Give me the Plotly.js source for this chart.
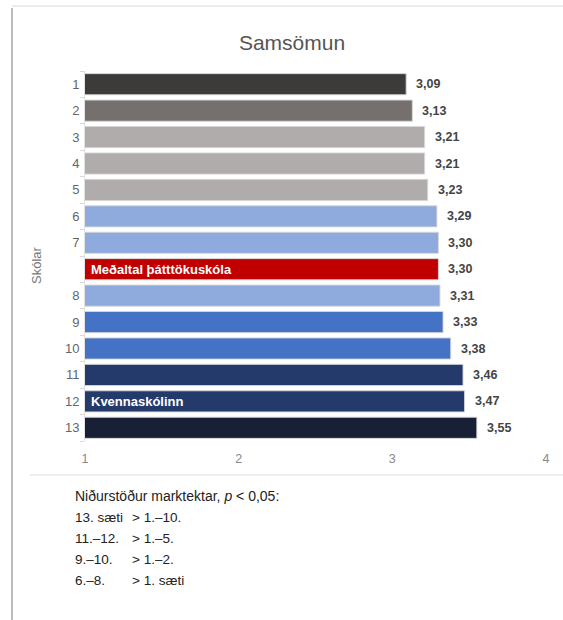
<!DOCTYPE html>
<html>
<head>
<meta charset="utf-8">
<script src="https://cdn.plot.ly/plotly-3.0.1.min.js"></script>
<style>html,body{margin:0;padding:0;background:#fff;}#chart{width:563px;height:620px;}</style>
</head>
<body>
<div id="chart"></div>
<script>
// ---- data ----
const categories = ["Skóli 1","Skóli 2","Skóli 3","Skóli 4","Skóli 5","Skóli 6","Skóli 7","Meðaltal",
                    "Skóli 8","Skóli 9","Skóli 10","Skóli 11","Skóli 12","Skóli 13"];
const tickLabels = ["1","2","3","4","5","6","7","","8","9","10","11","12","13"];
const values = [3.09,3.13,3.21,3.21,3.23,3.29,3.30,3.30,3.31,3.33,3.38,3.46,3.47,3.55];
const barColors = ["#3d3b3a","#75706e","#b0acab","#b0acab","#b0acab","#8faadc","#8faadc","#c00000",
                   "#8faadc","#4472c4","#4472c4","#243a6a","#243a6a","#172035"];
const inBarLabels = {"Meðaltal":"Meðaltal þátttökuskóla","Skóli 12":"Kvennaskólinn"};
const footLeft = ["13. sæti","11.–12.","9.–10.","6.–8."];
const footRight = ["> 1.–10.","> 1.–5.","> 1.–2.","> 1. sæti"];
const footHead = "Niðurstöður marktektar, <i>p</i> < 0,05:";

const FONT = "Liberation Sans, Arial, sans-serif";
const plotTop = 71, plotBottom = 441, plotLeft = 85, plotRight = 546;
const ph = plotBottom - plotTop, pw = plotRight - plotLeft;
const py = px => (plotBottom - px) / ph;
const pxx = px => (px - plotLeft) / pw;

const trace = {
  type: "bar",
  orientation: "h",
  y: categories,
  x: values,
  base: 0,
  width: 0.8,
  marker: {color: barColors, line: {color: "rgba(215,215,215,0.9)", width: 1}},
  hoverinfo: "skip"
};

const annotations = [];
categories.forEach((c, i) => {
  annotations.push({
    x: values[i], y: c, xref: "x", yref: "y",
    text: "<b>" + values[i].toFixed(2).replace(".", ",") + "</b>",
    showarrow: false, xanchor: "left", yanchor: "middle", xshift: 8,
    font: {family: FONT, size: 12.5, color: "#444"}
  });
  if (inBarLabels[c]) {
    annotations.push({
      x: 1, y: c, xref: "x", yref: "y",
      text: "<b>" + inBarLabels[c] + "</b>",
      showarrow: false, xanchor: "left", yanchor: "middle", xshift: 4,
      font: {family: FONT, size: 13, color: "#ffffff"}
    });
  }
});
annotations.push({
  x: pxx(73), y: py(496), xref: "paper", yref: "paper", text: footHead,
  showarrow: false, xanchor: "left", yanchor: "middle",
  font: {family: FONT, size: 14, color: "#222"}
});
footLeft.forEach((t, i) => {
  const yy = py(517 + 21 * i);
  annotations.push({x: pxx(73), y: yy, xref: "paper", yref: "paper", text: t,
    showarrow: false, xanchor: "left", yanchor: "middle", font: {family: FONT, size: 13.5, color: "#222"}});
  annotations.push({x: pxx(130), y: yy, xref: "paper", yref: "paper", text: footRight[i],
    showarrow: false, xanchor: "left", yanchor: "middle", font: {family: FONT, size: 13.5, color: "#222"}});
});
annotations.push({
  x: pxx(36), y: py(265), xref: "paper", yref: "paper", text: "Skólar", textangle: -90,
  showarrow: false, xanchor: "center", yanchor: "middle",
  font: {family: FONT, size: 13, color: "#777"}
});

const layout = {
  width: 563, height: 620,
  margin: {l: plotLeft, r: 563 - plotRight, t: plotTop, b: 620 - plotBottom},
  paper_bgcolor: "#ffffff", plot_bgcolor: "#ffffff",
  showlegend: false,
  title: {text: "Samsömun", x: 292 / 563, xref: "container", xanchor: "center",
          y: 1 - 43 / 620, yref: "container", yanchor: "middle",
          font: {family: FONT, size: 21, color: "#555"}},
  xaxis: {range: [1, 4], tickvals: [1, 2, 3, 4], ticktext: ["1","2","3","4"],
          showgrid: false, zeroline: false, showline: false, ticks: "",
          tickfont: {family: FONT, size: 12.5, color: "#888"}, ticklabelstandoff: 8, fixedrange: true},
  yaxis: {type: "category", categoryorder: "array", categoryarray: categories,
          autorange: "reversed", tickvals: categories, ticktext: tickLabels,
          showgrid: false, zeroline: false, showline: true, linecolor: "#e2e2e2", linewidth: 1,
          ticks: "outside", tickson: "boundaries", ticklen: 4, tickcolor: "#d8d8d8",
          tickfont: {family: FONT, size: 13, color: "#666"}, ticklabelstandoff: 2, fixedrange: true},
  shapes: [
    {type: "line", xref: "paper", yref: "paper", x0: pxx(12), x1: pxx(12), y0: py(8), y1: py(620),
     line: {color: "#bdbdbd", width: 2}},
    {type: "line", xref: "paper", yref: "paper", x0: pxx(12), x1: pxx(563), y0: py(6), y1: py(6),
     line: {color: "#ececec", width: 2}},
    {type: "line", xref: "paper", yref: "paper", x0: pxx(30), x1: pxx(563), y0: py(475), y1: py(475),
     line: {color: "#dcdcdc", width: 1}}
  ],
  annotations: annotations
};

Plotly.newPlot("chart", [trace], layout, {staticPlot: true, displayModeBar: false});
</script>
</body>
</html>
